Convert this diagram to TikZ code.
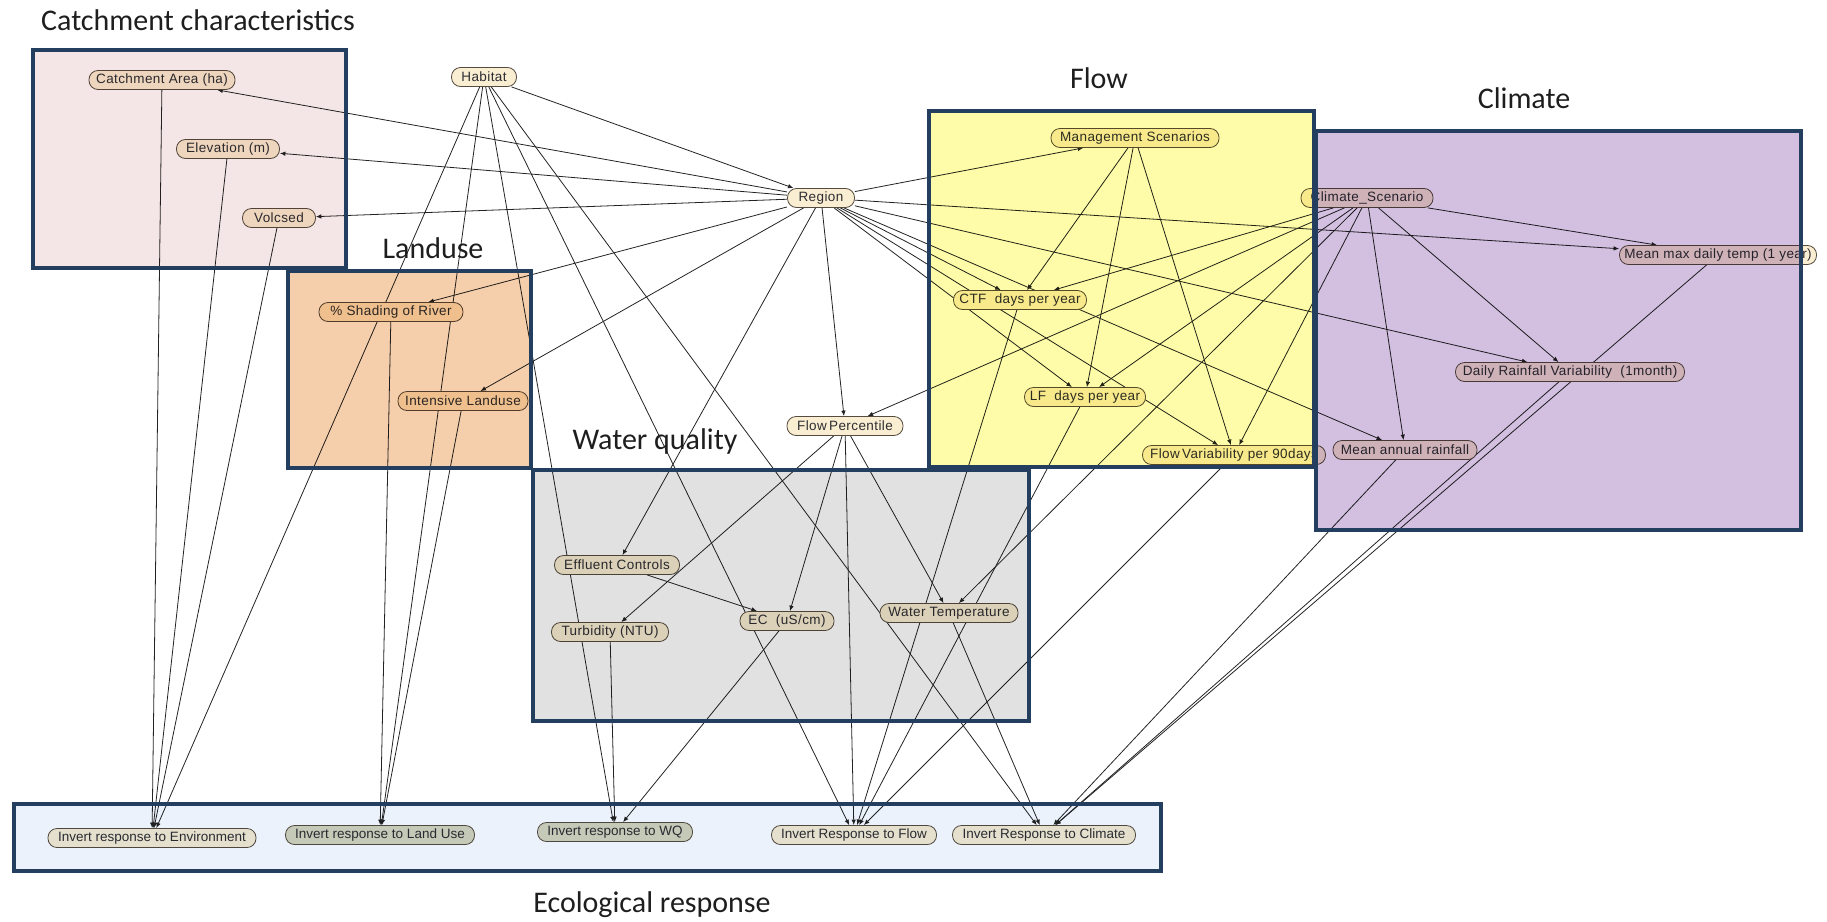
\documentclass[tikz,border=0pt]{standalone}
\usepackage{fontspec}
\usetikzlibrary{arrows.meta}
\newfontfamily\nodefont[LetterSpace=3]{Liberation Sans}
\newfontfamily\respfont{Liberation Sans}
\newfontfamily\titlefont{Carlito}

\definecolor{nodefill}{RGB}{249,237,210}
\definecolor{respdark}{RGB}{214,212,186}
\definecolor{nodeline}{RGB}{85,75,62}
\definecolor{nodetext}{RGB}{45,45,50}
\definecolor{linkcol}{RGB}{35,35,35}
\definecolor{framecol}{RGB}{36,62,96}
\definecolor{headcol}{RGB}{30,30,30}
\definecolor{catchfill}{RGB}{244,230,230}
\definecolor{landfill}{RGB}{245,207,172}
\definecolor{flowfill}{RGB}{254,252,168}
\definecolor{climfill}{RGB}{211,192,224}
\definecolor{wqfill}{RGB}{225,225,225}
\definecolor{ecofill}{RGB}{235,242,251}

\pgfdeclarelayer{links}
\pgfsetlayers{links,main}

% label that never widens its node
\newcommand{\nlabel}[1]{\makebox[0pt][c]{#1}}

\begin{document}
\begin{tikzpicture}[x=1pt,y=-1pt,
  bn/.style={draw=nodeline, line width=0.8pt, fill=nodefill, rounded corners=9pt,
    minimum height=19pt, minimum width=#1, inner sep=0pt,
    font=\nodefont\fontsize{13.5}{15}\selectfont, text=nodetext},
  resp/.style={bn=#1, font=\respfont\fontsize{13.5}{15}\selectfont},
  link/.style={draw=linkcol, line width=0.8pt, -{Latex[length=5.5pt,width=4.5pt]}},
  frame/.style={draw=framecol, line width=4.5pt},
  heading/.style={font=\titlefont\fontsize{30}{36}\selectfont, text=headcol, inner sep=0pt, anchor=base}
]
\useasboundingbox (0,0) rectangle (1827,921);

% ---------- nodes ----------
\node[bn=146pt] (catch)   at (162,80)  {\nlabel{Catchment Area (ha)}};
\node[bn=103pt] (elev)    at (228,149) {\nlabel{Elevation (m)}};
\node[bn=73pt]  (volc)    at (279,218) {\nlabel{Volcsed}};
\node[bn=65pt]  (habitat) at (484,77)  {\nlabel{Habitat}};
\node[bn=67pt]  (region)  at (821,198) {\nlabel{Region}};
\node[bn=144pt] (shading) at (391,312) {\nlabel{\% Shading of River}};
\node[bn=130pt] (intens)  at (463,401) {\nlabel{Intensive Landuse}};
\node[bn=116pt] (flowpc)  at (845,426) {\nlabel{Flow\,Percentile}};
\node[bn=168pt] (mgmt)    at (1135,138) {\nlabel{Management Scenarios}};
\node[bn=133pt] (ctf)     at (1020,300) {\nlabel{CTF\ \ days per year}};
\node[bn=121pt] (lf)      at (1085,397) {\nlabel{LF\ \ days per year}};
\node[bn=183pt] (fvar)    at (1234,455) {\nlabel{Flow\,Variability per 90days}};
\node[bn=132pt] (climsc)  at (1367,198) {\nlabel{Climate\_Scenario}};
\node[bn=197pt] (meanmax) at (1718,255) {\nlabel{Mean max daily temp (1 year)}};
\node[bn=229pt] (drain)   at (1570,372) {\nlabel{Daily Rainfall Variability\ \ (1month)}};
\node[bn=144pt] (mrain)   at (1405,450) {\nlabel{Mean annual rainfall}};
\node[bn=125pt] (effl)    at (617,565) {\nlabel{Effluent Controls}};
\node[bn=117pt] (turb)    at (610,632) {\nlabel{Turbidity (NTU)}};
\node[bn=94pt]  (ec)      at (787,621) {\nlabel{EC\ \ (uS/cm)}};
\node[bn=138pt] (wtemp)   at (949,613) {\nlabel{Water Temperature}};
\node[resp=208pt] (env)   at (152,838) {\nlabel{Invert response to Environment}};
\node[resp=189pt, fill=respdark] (luse) at (380,835) {\nlabel{Invert response to Land Use}};
\node[resp=155pt, fill=respdark] (wq)   at (615,832) {\nlabel{Invert response to WQ}};
\node[resp=165pt] (fresp) at (854,835) {\nlabel{Invert Response to Flow}};
\node[resp=183pt] (cresp) at (1044,835) {\nlabel{Invert Response to Climate}};

% ---------- links ----------
\begin{pgfonlayer}{links}
\foreach \a/\b in {habitat/region, habitat/env, habitat/luse, habitat/wq, habitat/fresp, habitat/cresp,
  region/catch, region/elev, region/volc, region/shading, region/intens, region/effl, region/flowpc,
  region/mgmt, region/ctf, region/lf, region/fvar, region/meanmax, region/drain, region/mrain,
  catch/env, elev/env, volc/env, shading/luse, intens/luse,
  mgmt/ctf, mgmt/lf, mgmt/fvar,
  climsc/ctf, climsc/lf, climsc/fvar, climsc/flowpc, climsc/wtemp, climsc/meanmax, climsc/drain, climsc/mrain,
  flowpc/turb, flowpc/ec, flowpc/fresp, flowpc/wtemp, effl/ec, turb/wq, ec/wq,
  ctf/fresp, lf/fresp, fvar/fresp,
  wtemp/cresp, mrain/cresp, drain/cresp, meanmax/cresp}
  \draw[link] (\a) -- (\b);
\end{pgfonlayer}

% ---------- group panels (tinting everything beneath) ----------
\begin{scope}[blend mode=multiply]
  \fill[catchfill] (33,50) rectangle (346,268);
  \fill[landfill]  (288,271) rectangle (531,468);
  \fill[flowfill]  (929,111) rectangle (1314,467);
  \fill[climfill]  (1316,131) rectangle (1801,530);
  \fill[wqfill]    (533,470) rectangle (1029,721);
  \fill[ecofill]   (14,804) rectangle (1161,871);
\end{scope}
\draw[frame] (33,50) rectangle (346,268);
\draw[frame] (288,271) rectangle (531,468);
\draw[frame] (929,111) rectangle (1314,467);
\draw[frame] (1316,131) rectangle (1801,530);
\draw[frame] (533,470) rectangle (1029,721);
\draw[frame] (14,804) rectangle (1161,871);

% ---------- headings ----------
\node[heading, anchor=base west] (tcatch) at (41,30) {Catchment characteristics};
\node[heading] (tland) at (433,258) {Landuse};
\node[heading] (tflow) at (1099,88) {Flow};
\node[heading] (tclim) at (1524,108) {Climate};
\node[heading] (twq)   at (655,449) {Water quality};
\node[heading] (teco)  at (652,912) {Ecological response};
\end{tikzpicture}
\end{document}
